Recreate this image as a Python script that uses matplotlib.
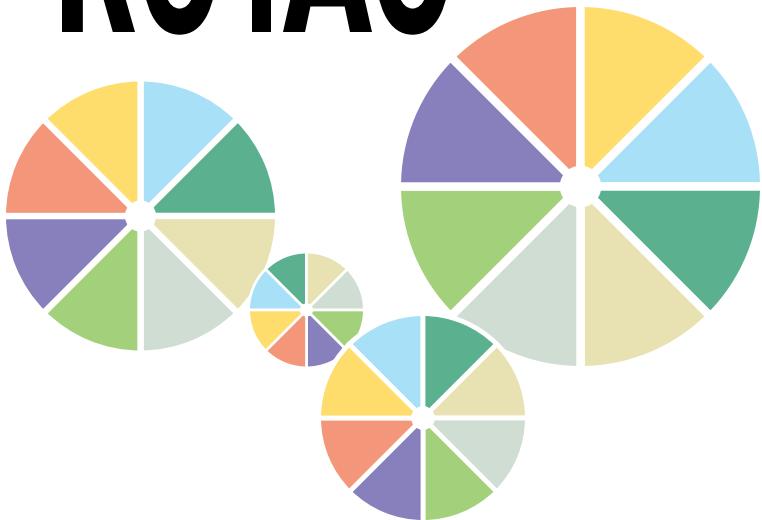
import matplotlib.pyplot as plt
from matplotlib.textpath import TextPath
from matplotlib.patches import PathPatch
from matplotlib.font_manager import FontProperties
from matplotlib.transforms import Affine2D

# Data: four pies, eight equal slices each
categories = ['A', 'B', 'C', 'D', 'E', 'F', 'G', 'H']
palette = ['#A8E0F8', '#5BB18F', '#E8E1B1', '#D0DDD3',
           '#A3D07B', '#8880BC', '#F49679', '#FEDD6C']
pie_names = ['left', 'big', 'small', 'bottom']
pie_values = {
    'left':   [1, 1, 1, 1, 1, 1, 1, 1],
    'big':    [1, 1, 1, 1, 1, 1, 1, 1],
    'small':  [1, 1, 1, 1, 1, 1, 1, 1],
    'bottom': [1, 1, 1, 1, 1, 1, 1, 1],
}
title = 'ROTAO'

# layout (pixel space, y measured upward from the bottom)
W, H = 762, 520
centers = {'left': (140.5, 304), 'big': (580.5, 333.5),
           'small': (306.5, 210), 'bottom': (423, 102)}
radii = {'left': 134.5, 'big': 179.5, 'small': 56.5, 'bottom': 102}
start = {'left': 90, 'big': 45, 'small': -180, 'bottom': 135}

fig = plt.figure(figsize=(W / 100, H / 100), dpi=100)
ax = fig.add_axes([0, 0, 1, 1])

# big heavy title, only its bottom part is inside the canvas
letter_boxes = [(62, 135), (142, 217), (226, 297), (283, 372), (375, 450)]
baseline = H - 32
cap_h = 140
fp = FontProperties(family='DejaVu Sans', weight='bold')
ref_h = TextPath((0, 0), 'H', prop=fp).get_extents().y1
for ch, (x0, x1) in zip(title, letter_boxes):
    tp = TextPath((0, 0), ch, prop=fp)
    ext = tp.get_extents()
    sx = (x1 - x0) / ext.width
    sy = cap_h / ref_h
    tr = Affine2D().translate(-ext.x0, 0).scale(sx, sy).translate(x0, baseline)
    ax.add_patch(PathPatch(tr.transform_path(tp), facecolor='black',
                           edgecolor='none', zorder=1))

for name in pie_names:
    r_vis = radii[name]
    gap = 0.047 * r_vis
    r = r_vis + gap / 2
    ax.pie(pie_values[name], colors=palette, startangle=start[name],
           counterclock=False, center=centers[name], radius=r,
           wedgeprops=dict(width=r * 0.91, edgecolor='white',
                           linewidth=gap * 0.72, zorder=2))

ax.set_xlim(0, W)
ax.set_ylim(0, H)
ax.set_aspect('equal')
ax.axis('off')

fig.savefig('out.png', dpi=100, facecolor='white')
